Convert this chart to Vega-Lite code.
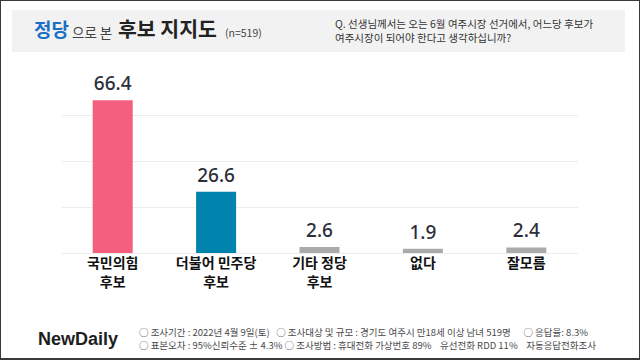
{
  "$schema": "https://vega.github.io/schema/vega-lite/v6.json",
  "background": "#3a3a3a",
  "padding": {"left": 1, "right": 1, "top": 1, "bottom": 2},
  "config": {
    "view": {"fill": "white", "stroke": null},
    "concat": {"spacing": 0},
    "title": {"anchor": "start", "orient": "bottom", "font": "Noto Sans CJK KR", "frame": "group"}
  },
  "spacing": 0,
  "vconcat": [
    {"width": 638, "height": 9, "view": {"fill": "white"}, "data": {"values": []}, "mark": "point"},
    {
      "spacing": 0,
      "hconcat": [
        {"width": 11, "height": 42, "view": {"fill": "white"}, "data": {"values": []}, "mark": "point"},
        {"width": 60, "height": 42, "view": {"fill": "#f2f2f2"}, "data": {"values": []}, "mark": "point",
         "title": {"text": "정당", "fontSize": 19, "fontWeight": "bold", "color": "#1a6fc6", "dx": 22, "offset": -30}},
        {"width": 46, "height": 42, "view": {"fill": "#f2f2f2"}, "data": {"values": []}, "mark": "point",
         "title": {"text": "으로 본", "fontSize": 13.5, "fontWeight": "normal", "color": "#444444", "offset": -25}},
        {"width": 107, "height": 42, "view": {"fill": "#f2f2f2"}, "data": {"values": []}, "mark": "point",
         "title": {"text": "후보 지지도", "fontSize": 20.5, "fontWeight": "bold", "color": "#222222", "offset": -31}},
        {"width": 110, "height": 42, "view": {"fill": "#f2f2f2"}, "data": {"values": []}, "mark": "point",
         "title": {"text": "(n=519)", "fontSize": 10.5, "fontWeight": "normal", "color": "#444444", "offset": -23}},
        {"width": 290, "height": 42, "view": {"fill": "#f2f2f2"}, "data": {"values": []}, "mark": "point",
         "title": {"text": ["Q. 선생님께서는 오는 6월 여주시장 선거에서, 어느당 후보가", "여주시장이 되어야 한다고 생각하십니까?"], "fontSize": 10.5, "fontWeight": "normal", "color": "#333333", "lineHeight": 14, "offset": -32}},
        {"width": 14, "height": 42, "view": {"fill": "white"}, "data": {"values": []}, "mark": "point"}
      ]
    },
    {
      "spacing": 0,
      "hconcat": [
        {"width": 60, "height": 258, "view": {"fill": "white"}, "data": {"values": []}, "mark": "point"},
        {
          "width": 517,
          "height": 258,
          "view": {"fill": "white"},
          "data": {"values": [
            {"answer": "국민의힘 후보", "line1": "국민의힘", "line2": "후보", "value": 66.4, "group": "국민의힘"},
            {"answer": "더불어 민주당 후보", "line1": "더불어 민주당", "line2": "후보", "value": 26.6, "group": "더불어민주당"},
            {"answer": "기타 정당 후보", "line1": "기타 정당", "line2": "후보", "value": 2.6, "group": "기타"},
            {"answer": "없다", "line1": "없다", "line2": "", "value": 1.9, "group": "기타"},
            {"answer": "잘모름", "line1": "잘모름", "line2": "", "value": 2.4, "group": "기타"}
          ]},
          "encoding": {
            "x": {"field": "answer", "type": "nominal", "sort": null,
                  "scale": {"paddingInner": 0.613, "paddingOuter": 0.3065},
                  "axis": null}
          },
          "layer": [
            {"mark": {"type": "bar"},
             "encoding": {
               "y": {"field": "value", "type": "quantitative",
                     "scale": {"domain": [-24.783, 87.391], "nice": false, "zero": false},
                     "axis": {"values": [0, 10, 20, 30, 40, 50, 60, 70], "labels": false, "ticks": false, "domain": false,
                              "title": null, "grid": true, "gridColor": "#ececec", "gridWidth": 1}},
               "color": {"field": "group", "type": "nominal",
                         "scale": {"domain": ["국민의힘", "더불어민주당", "기타"], "range": ["#f45f80", "#0084ad", "#aaaaaa"]},
                         "legend": null}}},
            {"mark": {"type": "text", "baseline": "alphabetic", "dy": -10, "fontSize": 19, "font": "Noto Sans", "fontWeight": 500, "color": "#2b2f3b"},
             "encoding": {
               "y": {"field": "value", "type": "quantitative"},
               "text": {"field": "value", "type": "quantitative", "format": ".1f"}}},
            {"mark": {"type": "text", "baseline": "top", "dy": 4.5, "fontSize": 14, "font": "Noto Sans CJK KR", "fontWeight": "bold", "color": "#111111"},
             "encoding": {
               "y": {"datum": 0, "type": "quantitative"},
               "text": {"field": "line1", "type": "nominal"}}},
            {"mark": {"type": "text", "baseline": "top", "dy": 23, "fontSize": 14, "font": "Noto Sans CJK KR", "fontWeight": "bold", "color": "#111111"},
             "encoding": {
               "y": {"datum": 0, "type": "quantitative"},
               "text": {"field": "line2", "type": "nominal"}}}
          ]
        },
        {"width": 61, "height": 258, "view": {"fill": "white"}, "data": {"values": []}, "mark": "point"}
      ]
    },
    {
      "spacing": 0,
      "hconcat": [
        {"width": 127, "height": 48, "view": {"fill": "white"}, "data": {"values": []}, "mark": "point",
         "title": {"text": "NewDaily", "font": "Liberation Sans", "fontSize": 18, "fontWeight": "bold", "color": "#1e1e1e", "dx": 37, "offset": -27}},
        {"width": 511, "height": 48, "view": {"fill": "white"}, "data": {"values": []}, "mark": "point",
         "title": {"text": ["○ 조사기간 : 2022년 4월 9일(토)\u00a0\u00a0\u00a0○ 조사대상 및 규모 : 경기도 여주시 만18세 이상 남녀 519명\u00a0\u00a0\u00a0\u00a0\u00a0\u00a0○ 응답율: 8.3%", "○ 표본오차 : 95%신뢰수준 ± 4.3%\u00a0○ 조사방법 : 휴대전화 가상번호 89%\u00a0\u00a0\u00a0\u00a0유선전화 RDD 11%\u00a0\u00a0\u00a0\u00a0자동응답전화조사"],
                   "fontSize": 9.5, "fontWeight": "normal", "color": "#4a4a4a", "lineHeight": 13, "dx": 11, "offset": -30}}
      ]
    }
  ]
}
